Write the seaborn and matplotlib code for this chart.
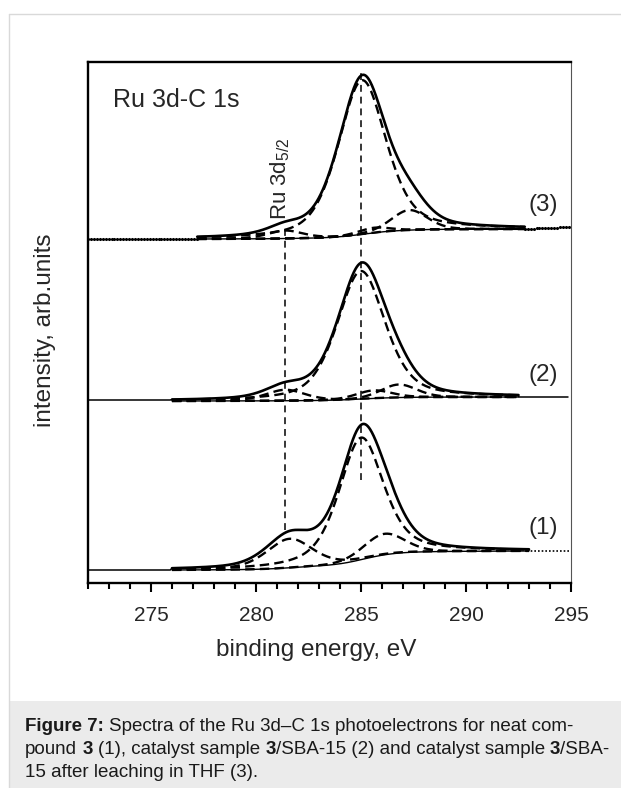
import numpy as np
import pandas as pd
import matplotlib
matplotlib.use("Agg")
import matplotlib.pyplot as plt
import seaborn as sns
from matplotlib.patches import Rectangle
from matplotlib.lines import Line2D
from matplotlib.ticker import MultipleLocator

# ---------------- data ----------------
energy_range = [272, 295]
major_ticks = [275, 280, 285, 290, 295]
spectrum_labels = ["(1)", "(2)", "(3)"]
label_pos_y = [55, 208, 378]

fit_lo = [276.0, 276.0, 277.2]
fit_hi = [293.0, 292.5, 292.8]
bg_left = [13, 182, 344]
bg_right = [32, 186, 354]
data_left = [13, 183, 344]
data_right = [32, 186, 356]

# fit components: centres (eV), heights above background, FWHM (eV), Lorentz fraction
centers_1 = [281.6, 285.0, 286.1]
heights_1 = [29, 122, 21]
fwhm_1 = [2.6, 2.5, 2.3]
lor_1 = [0.4, 0.5, 0.2]

centers_2 = [281.4, 285.0, 285.6, 286.8]
heights_2 = [11, 128, 8, 13]
fwhm_2 = [2.2, 2.7, 2.0, 2.0]
lor_2 = [0.4, 0.45, 0.3, 0.2]

centers_3 = [281.4, 285.05, 285.6, 287.3]
heights_3 = [8, 154, 5, 20]
fwhm_3 = [2.0, 2.7, 1.8, 2.0]
lor_3 = [0.5, 0.45, 0.3, 0.2]

ru_line = [281.4, 53, 358]     # energy, from, to
c1s_line = [285.0, 103, 511]

# ---------------- style ----------------
sns.set_theme(style="white")
plt.rcParams["font.family"] = ["Liberation Sans", "DejaVu Sans"]
plt.rcParams["mathtext.fontset"] = "custom"
plt.rcParams["mathtext.rm"] = "Liberation Sans"
plt.rcParams["mathtext.it"] = "Liberation Sans:italic"
plt.rcParams["mathtext.bf"] = "Liberation Sans:bold"

W, H = 621, 788
fig = plt.figure(figsize=(W / 100, H / 100), dpi=100)
fig.patch.set_facecolor("white")

# outer frame and caption box
fig.add_artist(Rectangle((9 / W, 0), 1 - 9 / W, (H - 701) / H, transform=fig.transFigure,
                         facecolor="#ebebeb", edgecolor="none", zorder=0))
fig.add_artist(Line2D([9 / W, 9 / W], [0, 1 - 14 / H], transform=fig.transFigure,
                      color="#d9d9d9", lw=1.0))
fig.add_artist(Line2D([9 / W, 1], [1 - 14 / H, 1 - 14 / H], transform=fig.transFigure,
                      color="#d9d9d9", lw=1.0))

ax = fig.add_axes([88 / W, (H - 583) / H, (571 - 88) / W, (583 - 62) / H])
ax.set_facecolor("white")


def gl(x, c, h, w, m):
    d = (x - c) / w
    return h * ((1 - m) * np.exp(-4 * np.log(2) * d ** 2) + m / (1 + 4 * d ** 2))


comp_sets = [(centers_1, heights_1, fwhm_1, lor_1), (centers_2, heights_2, fwhm_2, lor_2),
             (centers_3, heights_3, fwhm_3, lor_3)]

dash = (0, (4.0, 2.2))
for i, (cs, hs, ws, ms) in enumerate(comp_sets):
    x = np.arange(fit_lo[i], fit_hi[i] + 1e-9, 0.02)
    comps = [gl(x, c, h, w, m) for c, h, w, m in zip(cs, hs, ws, ms)]
    total = np.sum(comps, axis=0)
    cum = np.concatenate([[0], np.cumsum((total[1:] + total[:-1]) / 2)])
    bg = bg_left[i] + (bg_right[i] - bg_left[i]) * cum / cum[-1]
    env = bg + total

    # experimental data outside the fitted range
    xl = np.arange(energy_range[0], fit_lo[i], 0.14)
    xr = np.arange(fit_hi[i], energy_range[1] + 1e-9, 0.14)
    yl = np.full_like(xl, data_left[i])
    yr = np.linspace(bg_right[i], data_right[i], len(xr))
    if i == 2:
        sns.scatterplot(x=xl, y=yl, ax=ax, s=5, color="black", linewidth=0)
        sns.scatterplot(x=xr, y=yr, ax=ax, s=5, color="black", linewidth=0)
    elif i == 0:
        sns.lineplot(x=np.r_[xl, x[0]], y=np.r_[yl, env[0]], ax=ax, color="black", lw=1.1,
                     estimator=None)
        sns.lineplot(x=np.r_[x[-1], xr], y=np.r_[env[-1], yr], ax=ax, color="black", lw=1.2,
                     estimator=None, ls=(0, (1, 1.2)))
    else:
        sns.lineplot(x=np.r_[xl, x[0]], y=np.r_[yl, env[0]], ax=ax, color="black", lw=1.1,
                     estimator=None)
        sns.lineplot(x=np.r_[x[-1], xr], y=np.r_[env[-1], yr], ax=ax, color="black", lw=1.1,
                     estimator=None)

    for comp in comps:
        sns.lineplot(x=x, y=bg + comp, ax=ax, color="black", lw=1.7, ls=dash, estimator=None)
    sns.lineplot(x=x, y=bg, ax=ax, color="black", lw=1.0, estimator=None)
    sns.lineplot(x=x, y=env, ax=ax, color="black", lw=1.9, estimator=None)
    ax.text(293.7, label_pos_y[i], spectrum_labels[i], fontsize=17.5, ha="center", va="center")

# reference lines
ax.plot([ru_line[0]] * 2, ru_line[1:], color="black", lw=1.1, ls=(0, (4.5, 3.2)))
ax.plot([c1s_line[0]] * 2, c1s_line[1:], color="black", lw=1.1, ls=(0, (4.5, 3.2)))

ax.text(281.13, 363, r"Ru 3d$_{5/2}$", rotation=90, fontsize=16, ha="center", va="bottom")
ax.text(273.2, 483, "Ru 3d-C 1s", fontsize=18, ha="left", va="center")

ax.set_xlim(*energy_range)
ax.set_ylim(0, 521)
ax.set_xticks(major_ticks)
ax.xaxis.set_minor_locator(MultipleLocator(1))
ax.set_yticks([])
ax.tick_params(axis="x", which="major", direction="out", length=6.5, width=1.5,
               labelsize=15, pad=10, bottom=True, color="black")
ax.tick_params(axis="x", which="minor", direction="out", length=4.3, width=1.5,
               bottom=True, color="black")
for s in ["left", "bottom", "top"]:
    ax.spines[s].set_linewidth(1.7)
    ax.spines[s].set_color("black")
ax.spines["right"].set_linewidth(0.8)
ax.spines["right"].set_color("#555555")

ax.set_xlabel("binding energy, eV", fontsize=17.5)
ax.xaxis.set_label_coords((316 - 88) / 483, (583 - 650) / 521)
ax.xaxis.label.set_va("center")
ax.set_ylabel("intensity, arb.units", fontsize=17.5)
ax.yaxis.set_label_coords((45 - 88) / 483, (583 - 330) / 521)
ax.yaxis.label.set_va("center")

# caption with mixed bold segments
cap_lines = [
    "**Figure 7:** Spectra of the Ru 3d–C 1s photoelectrons for neat com-",
    "pound **3** (1), catalyst sample **3**/SBA-15 (2) and catalyst sample **3**/SBA-",
    "15 after leaching in THF (3).",
]
renderer = fig.canvas.get_renderer()
cap_fs = 13.5


def text_width(s, weight):
    t = fig.text(0, 0, s, fontsize=cap_fs, fontweight=weight)
    w = t.get_window_extent(renderer).width
    t.remove()
    return w


space_w = text_width("a a", "normal") - text_width("aa", "normal")
for k, line in enumerate(cap_lines):
    xpx = 25.0
    ypx = 731 + 23 * k
    for j, piece in enumerate(line.split("**")):
        if not piece:
            continue
        weight = "bold" if j % 2 == 1 else "normal"
        lead = len(piece) - len(piece.lstrip(" "))
        trail = len(piece) - len(piece.rstrip(" "))
        core = piece.strip(" ")
        xpx += lead * space_w
        t = fig.text(xpx / W, 1 - ypx / H, core, fontsize=cap_fs, fontweight=weight,
                     ha="left", va="baseline", color="#1a1a1a")
        xpx += t.get_window_extent(renderer).width + trail * space_w

fig.savefig("out.png", dpi=100)
